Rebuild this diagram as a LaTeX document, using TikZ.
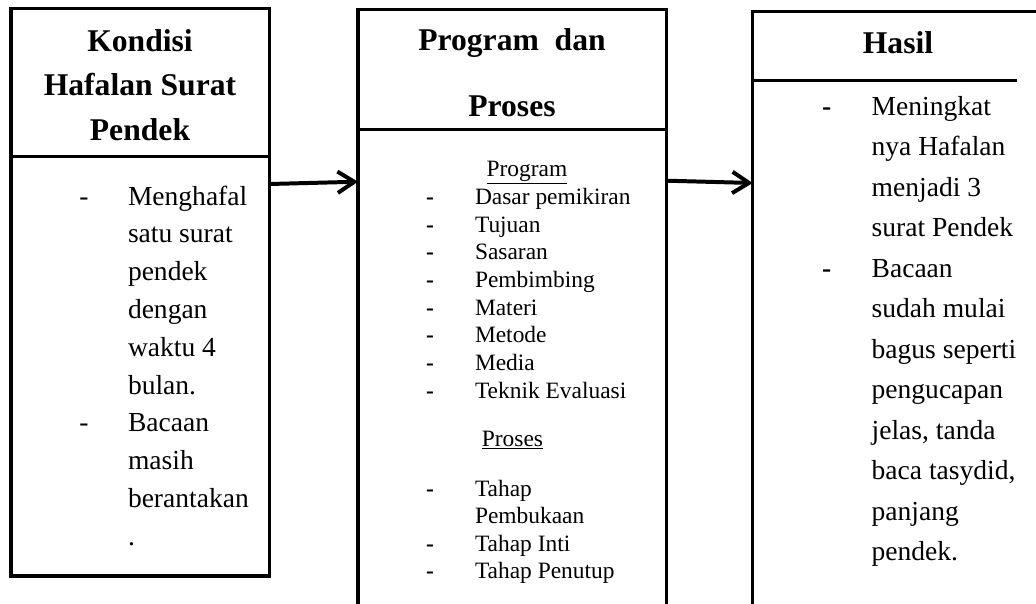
\documentclass[tikz,border=0pt]{standalone}
\usepackage{fontspec}
\setmainfont{Liberation Serif}
\usetikzlibrary{arrows.meta,positioning}

\begin{document}
\begin{tikzpicture}[x=0.03cm, y=-0.03cm,
  every node/.style={inner sep=0pt, outer sep=0pt},
  box/.style={draw, line width=2.6pt, anchor=north west},
  garis/.style={line width=2.3pt},
  head/.style={font=\fontsize{27}{32}\selectfont\bfseries, anchor=base},
  isi/.style={font=\fontsize{23.5}{28}\selectfont, anchor=base west},
  kecil/.style={font=\fontsize{20}{24}\selectfont, anchor=base west},
  panah/.style={-{Straight Barb[length=5mm, width=6.4mm]}, line width=3.4pt}
]
\clip (0,0) rectangle (1036,603);

% the three boxes
\node[box, minimum width=7.755cm, minimum height=17.03cm] (kondisi) at (11,8.3) {};
\node[box, minimum width=9.26cm, minimum height=19.2cm] (program) at (358,9.8) {};
\node[box, minimum width=9.6cm, minimum height=19.2cm] (hasil) at (752.7,11.5) {};
\draw[garis] (kondisi.west |- 0,156.7) -- (kondisi.east |- 0,156.7);
\draw[garis] (program.west |- 0,129.3) -- (program.east |- 0,129.3);
\draw[garis] (hasil.west |- 0,80.7) -- (1016.7,80.7);

\draw[panah] (kondisi.east |- 0,184) -- (program.west |- 0,181.7);
\draw[panah] (program.east |- 0,180.7) -- (hasil.west |- 0,183);

% headers
\node[head] (k1) at (140,51.7) {Kondisi};
\node[head] (k2) at (140,95) {Hafalan Surat};
\node[head] (k3) at (140,140) {Pendek};
\node[head] (p1) at (512,50) {Program\ \ dan};
\node[head] (p2) at (512,116.7) {Proses};
\node[head] (h1) at (898,53.3) {Hasil};

% kondisi
\foreach \baris [count=\i from 0] in {Menghafal, satu surat, pendek, dengan, waktu 4, bulan., Bacaan, masih, berantakan, .}
  \node[isi] (k-\i) at (128, 205+37.8*\i) {\baris};
\node[isi, anchor=base] (kd-1) at (84,205) {-};
\node[isi, anchor=base] (kd-2) at (84,431.8) {-};

% program dan proses
\node[kecil, anchor=base] (pg) at (527,176.7) {\underline{Program}};
\foreach \baris [count=\i from 0] in {Dasar pemikiran, Tujuan, Sasaran, Pembimbing, Materi, Metode, Media, Teknik Evaluasi} {
  \node[kecil] (pr-\i) at (475, 204.3+27.7*\i) {\baris};
  \node[kecil, anchor=base] (pd-\i) at (430, 204.3+27.7*\i) {\textbf{-}};
}
\node[kecil, anchor=base] (ps) at (512.5,446) {\underline{Proses}};
\foreach \baris [count=\i from 0] in {Tahap, Pembukaan, Tahap Inti, Tahap Penutup}
  \node[kecil] (ts-\i) at (475, 496.7+27.2*\i) {\baris};
\foreach \i in {0,2,3}
  \node[kecil, anchor=base] (td-\i) at (430, 496.7+27.2*\i) {\textbf{-}};

% hasil
\foreach \baris [count=\i from 0] in {Meningkat, nya Hafalan, menjadi 3, surat Pendek, Bacaan, sudah mulai, bagus seperti, pengucapan, {jelas, tanda}, {baca tasydid,}, panjang, pendek.}
  \node[isi] (h-\i) at (871.7, 115+40.5*\i) {\baris};
\node[isi, anchor=base] (hd-1) at (826.7,115) {\textbf{-}};
\node[isi, anchor=base] (hd-2) at (826.7,277) {\textbf{-}};
\end{tikzpicture}
\end{document}
